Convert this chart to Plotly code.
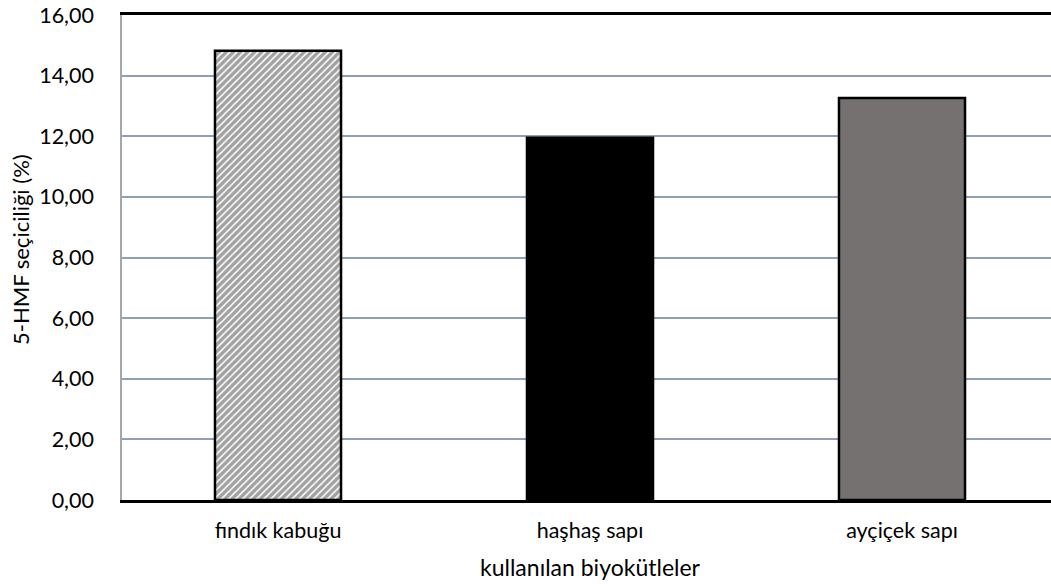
import plotly.graph_objects as go

categories = ["fındık kabuğu", "haşhaş sapı", "ayçiçek sapı"]
values = [14.82, 11.95, 13.26]
y_ticks = [0, 2, 4, 6, 8, 10, 12, 14, 16]
x_title = "kullanılan biyokütleler"
y_title = "5-HMF seçiciliği (%)"

FONT = "Lato"
L, T, B = 122, 15, 88
PW = 1051 - L
PH = 588 - T - B

fig = go.Figure()
fig.add_trace(go.Bar(
    x=categories,
    y=values,
    width=0.404,
    marker=dict(
        color=["white", "black", "#767171"],
        line=dict(color="black", width=2.5),
        pattern=dict(
            shape=["/", "", ""],
            fgcolor="black",
            bgcolor="white",
            size=5,
            solidity=0.7,
        ),
    ),
))

fig.update_layout(
    width=1051, height=588,
    margin=dict(l=L, r=0, t=T, b=B),
    paper_bgcolor="white",
    plot_bgcolor="white",
    showlegend=False,
    font=dict(family=FONT, size=21, color="black"),
    xaxis=dict(
        type="category",
        range=[-0.5, -0.5 + PW / 312],
        showline=True, linecolor="black", linewidth=2.5, mirror=True,
        showgrid=False, ticks="", ticklabelstandoff=9,
        tickfont=dict(family=FONT, size=21.5),
    ),
    yaxis=dict(
        range=[0, 16],
        tickvals=y_ticks,
        tickformat=".2f",
        showline=True, linecolor="#A6A6A6", linewidth=1.5,
        showgrid=True, gridcolor="#8DA0B8", gridwidth=2,
        zeroline=False, ticks="", ticklabelstandoff=22,
        tickfont=dict(family=FONT, size=21.5),
    ),
    separators=",.",
    annotations=[
        dict(text=x_title, xref="paper", yref="paper", x=(590 - 122) / PW, y=-(567 - 500) / PH,
             showarrow=False, xanchor="center", yanchor="middle",
             font=dict(family=FONT, size=23)),
        dict(text=y_title, xref="paper", yref="paper", x=(20 - 122) / PW, y=(500 - 250) / PH,
             showarrow=False, xanchor="center", yanchor="middle", textangle=-90,
             font=dict(family=FONT, size=22)),
    ],
)

fig.write_html("out.html", config={"displayModeBar": False},
               post_script="document.body.style.margin='0';")
